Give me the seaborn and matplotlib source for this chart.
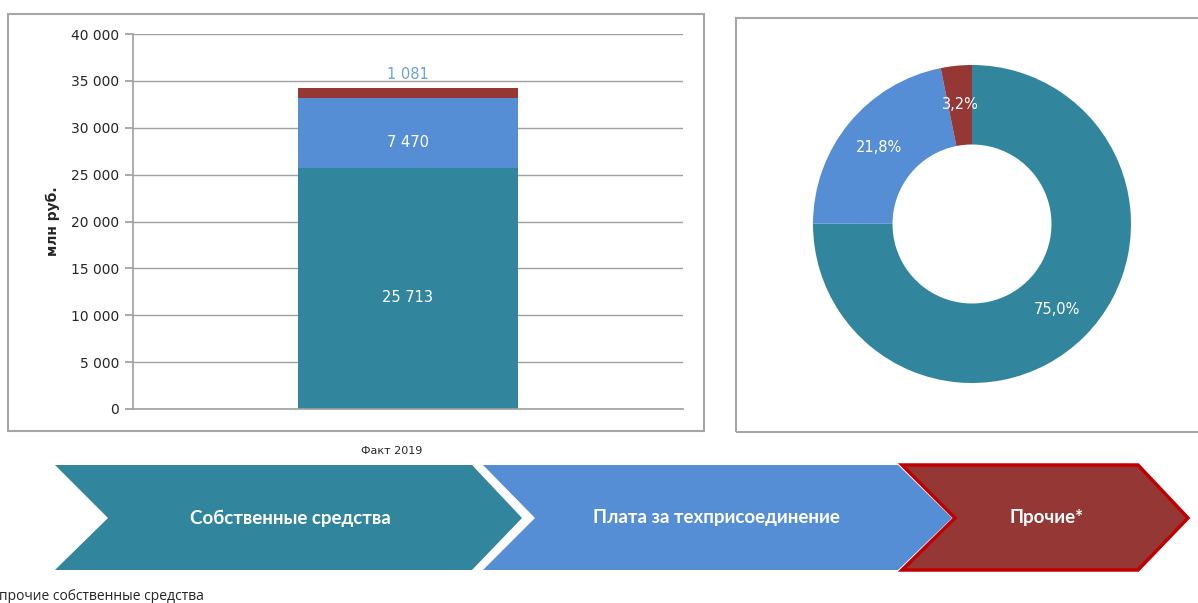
import matplotlib
matplotlib.use("Agg")
import matplotlib.pyplot as plt
import seaborn as sns
import pandas as pd
import numpy as np
from matplotlib.patches import Polygon, Rectangle

# data
categories = ["Собственные средства", "Плата за техприсоединение", "Прочие*"]
values = [25713, 7470, 1081]
period = "Факт 2019"
colors = ["#31859C", "#558ED5", "#953735"]
yticks = [0, 5000, 10000, 15000, 20000, 25000, 30000, 35000, 40000]

W, H = 1198, 603
sns.set_theme(style="white")
plt.rcParams["font.family"] = ["DejaVu Sans"]

fig = plt.figure(figsize=(W / 100, H / 100), dpi=100)


def px(x0, y0, x1, y1):
    # pixel box (top-left origin) -> figure fraction rect
    return [x0 / W, 1 - y1 / H, (x1 - x0) / W, (y1 - y0) / H]


# frames around the two charts
for x0, y0, x1, y1 in [(8, 14, 704, 431), (736, 18, 1205, 432)]:
    fig.patches.append(Rectangle((x0 / W, 1 - y1 / H), (x1 - x0) / W, (y1 - y0) / H,
                                 transform=fig.transFigure, fill=False,
                                 edgecolor="#A6A6A6", linewidth=1.5))

# stacked bar
ax = fig.add_axes(px(133, 34, 683, 409))
cum = pd.Series(values).cumsum().tolist()
df = pd.DataFrame({"period": [period] * 3, "value": cum, "part": categories})
for i in [2, 1, 0]:
    sns.barplot(data=df.iloc[[i]], x="period", y="value", color=colors[i],
                width=0.4, saturation=1, linewidth=0, ax=ax)
ax.set_ylim(0, 40000)
ax.set_xlim(-0.5, 0.5)
ax.set_yticks(yticks)
ax.set_yticklabels([f"{v:,}".replace(",", " ") for v in yticks], fontsize=10)
ax.yaxis.grid(True, color="#A0A0A0", linewidth=1)
ax.set_axisbelow(True)
ax.tick_params(axis="y", length=6, color="#A0A0A0", left=True, pad=4)
ax.set_xticks([])
ax.set_xlabel("")
ax.set_ylabel("млн руб.", fontsize=10, fontweight="bold", labelpad=8)
for s in ["top", "right"]:
    ax.spines[s].set_visible(False)
for s in ["left", "bottom"]:
    ax.spines[s].set_color("#A0A0A0")
    ax.spines[s].set_linewidth(1.2)
fig.text(392 / W, 1 - 451 / H, period, ha="center", va="center", fontsize=8)

lo = 0
for i, v in enumerate(values):
    lab = f"{v:,}".replace(",", " ")
    if i < 2:
        ax.text(0, lo + v / 2 - 1000, lab, ha="center", va="center", color="white", fontsize=10.5)
    else:
        ax.text(0, lo + v + 1450, lab, ha="center", va="center", color="#6FA0DC", fontsize=10.5)
    lo += v

# donut
pax = fig.add_axes(px(972 - 159, 224 - 159, 972 + 159, 224 + 159))
total = sum(values)
pax.pie(values, colors=colors, startangle=90, counterclock=False,
        radius=1, wedgeprops=dict(width=0.5, linewidth=0))
ang = 90.0
for v in values:
    frac = v / total
    mid = np.deg2rad(ang - frac * 360 / 2)
    pax.text(0.755 * np.cos(mid), 0.755 * np.sin(mid),
             f"{frac * 100:.1f}%".replace(".", ","), ha="center", va="center",
             color="white", fontsize=10.5)
    ang -= frac * 360
pax.set_xlim(-1, 1)
pax.set_ylim(-1, 1)
pax.set_aspect("equal")
pax.axis("off")

# chevrons
chev = [(55, 472, 108, 522), (483, 898, 535, 952), (902, 1138, 955, 1188)]
ytop, ymid, ybot = 465, 518, 570
for i, (xl, xr, xn, xt) in enumerate(chev):
    pts = [(xl, ytop), (xr, ytop), (xt, ymid), (xr, ybot), (xl, ybot), (xn, ymid)]
    pts = [(x / W, 1 - y / H) for x, y in pts]
    ec = "#C00000" if i == 2 else "none"
    fig.patches.append(Polygon(pts, closed=True, transform=fig.transFigure,
                               facecolor=colors[i], edgecolor=ec, linewidth=2.5,
                               joinstyle="miter"))
    cx = (xn + xr) / 2
    fig.text(cx / W, 1 - ymid / H, categories[i], ha="center", va="center",
             color="white", fontsize=13.5, fontweight="bold", family=["Lato", "DejaVu Sans"])

fig.text(-1 / W, 1 - 596 / H, "прочие собственные средства", ha="left", va="center",
         fontsize=10, family=["Open Sans", "DejaVu Sans"])

fig.savefig("out.png", dpi=100)
